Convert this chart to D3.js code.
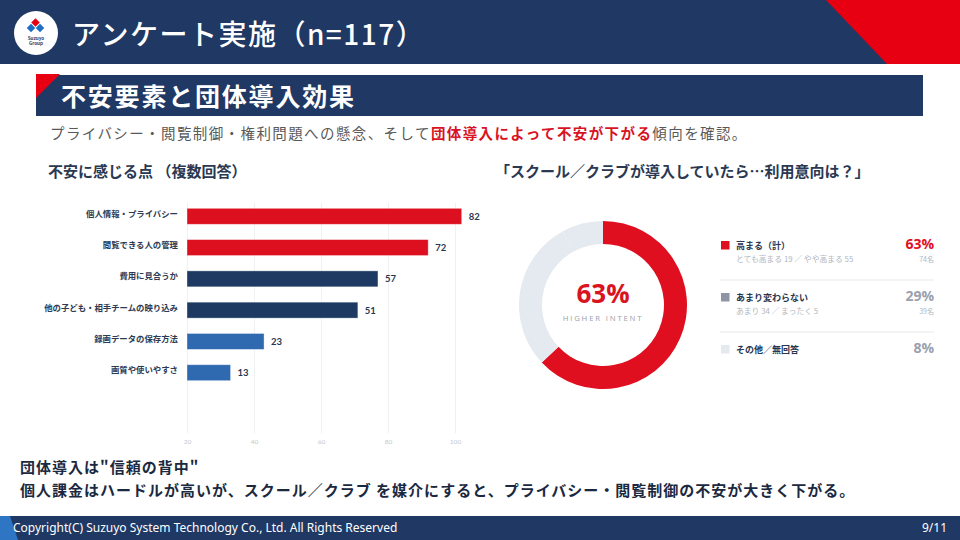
<!DOCTYPE html>
<html lang="ja">
<head>
<meta charset="utf-8">
<title>アンケート実施</title>
<script src="https://cdn.jsdelivr.net/npm/d3@7"></script>
<style>
  body { margin: 0; background: #fff; }
  svg { display: block; font-family: "Noto Sans CJK JP", "Noto Sans", sans-serif; }
</style>
</head>
<body>
<div id="slide"></div>
<script>
// ---- data ----
const categories = ["個人情報・プライバシー", "閲覧できる人の管理", "費用に見合うか",
                    "他の子ども・相手チームの映り込み", "録画データの保存方法", "画質や使いやすさ"];
const values = [82, 72, 57, 51, 23, 13];
const tiers = ["high", "high", "mid", "mid", "low", "low"];
const tickLabels = [20, 40, 60, 80, 100];

const intentLabels = ["高まる（計）", "あまり変わらない", "その他／無回答"];
const intentShares = [63, 29, 8];
const intentDetails = ["とても高まる 19 ／ やや高まる 55", "あまり 34 ／ まったく 5", ""];
const intentCounts = ["74名", "39名", ""];

const W = 960, H = 540;
const navy = "#1f3864", red = "#e00f1f";

const svg = d3.select("#slide").append("svg").attr("width", W).attr("height", H);

// ---- header ----
svg.append("rect").attr("width", W).attr("height", 64).attr("fill", navy);
svg.append("polygon").attr("points", "826,0 960,0 960,64 887,64").attr("fill", "#e60012");

// logo
const logo = svg.append("g").attr("transform", "translate(36,33)");
logo.append("circle").attr("r", 22).attr("fill", "#fff");
const diamond = (cx, cy, s, c) => logo.append("rect")
  .attr("x", -s / 2).attr("y", -s / 2).attr("width", s).attr("height", s)
  .attr("transform", `translate(${cx},${cy}) rotate(45)`).attr("fill", c);
diamond(-0.5, -10.5, 6, "#e60012");
diamond(-5, -5, 6, "#1d6fc2");
diamond(4, -5, 6, "#1d6fc2");
logo.append("text").attr("y", 6.5).attr("text-anchor", "middle").attr("font-size", 4.6)
  .attr("font-weight", 700).attr("fill", navy).text("Suzuyo");
logo.append("text").attr("y", 11.5).attr("text-anchor", "middle").attr("font-size", 4.6)
  .attr("font-weight", 700).attr("fill", navy).text("Group");

svg.append("text").attr("x", 72).attr("y", 45).attr("fill", "#fff")
  .attr("font-size", 28).attr("font-weight", 500).attr("letter-spacing", 1.5)
  .text("アンケート実施（n=117）");

// section bar
svg.append("rect").attr("x", 36).attr("y", 75).attr("width", 887).attr("height", 41).attr("fill", navy);
svg.append("polygon").attr("points", "36,74 60,74 36,98").attr("fill", "#e60012");
svg.append("text").attr("x", 61).attr("y", 106).attr("fill", "#fff")
  .attr("font-size", 25).attr("font-weight", 700).attr("letter-spacing", 1.8).text("不安要素と団体導入効果");

// subtitle
const sub = svg.append("text").attr("x", 50).attr("y", 139).attr("font-size", 14.5)
  .attr("letter-spacing", 1.4).attr("fill", "#595959");
sub.append("tspan").text("プライバシー・閲覧制御・権利問題への懸念、そして");
sub.append("tspan").attr("fill", "#d9121f").attr("font-weight", 700).text("団体導入によって不安が下がる");
sub.append("tspan").text("傾向を確認。");

// ---- bar chart ----
svg.append("text").attr("x", 48).attr("y", 177).attr("font-size", 15).attr("font-weight", 700)
  .attr("fill", "#2a3852").text("不安に感じる点 （複数回答）");

const x = d3.scaleLinear().domain([0, 80]).range([187, 455]);
const y = d3.scaleBand().domain(categories).range([200.5, 388.5]).paddingInner(0.49).paddingOuter(0.25);
const color = d3.scaleOrdinal().domain(["high", "mid", "low"]).range(["#dd1020", "#1e3a62", "#2f6ab0"]);
const tickValues = tickLabels.map(t => t - tickLabels[0]);

const xAxis = svg.append("g").attr("transform", "translate(0,433)")
  .call(d3.axisBottom(x).tickValues(tickValues).tickFormat((d, i) => tickLabels[i])
    .tickSize(-230).tickPadding(6));
xAxis.select(".domain").remove();
xAxis.selectAll(".tick line").attr("stroke", "#eef0f3");
xAxis.selectAll(".tick text").attr("fill", "#c3c7cf").attr("font-size", 6.5)
  .attr("font-family", "Lato, 'Noto Sans', sans-serif");

svg.append("g").selectAll("rect").data(values).join("rect")
  .attr("x", x(0)).attr("y", (d, i) => y(categories[i]))
  .attr("width", d => x(d) - x(0)).attr("height", y.bandwidth())
  .attr("fill", (d, i) => color(tiers[i]))
  .attr("stroke", "#fff").attr("stroke-opacity", 0.45).attr("stroke-width", 0.8);

svg.append("g").selectAll("text").data(values).join("text")
  .attr("x", d => x(d) + 7).attr("y", (d, i) => y(categories[i]) + y.bandwidth() / 2 + 3.5)
  .attr("font-size", 9.5).attr("font-weight", 700).attr("fill", "#2a3650")
  .attr("font-family", "Lato, 'Noto Sans', sans-serif").text(d => d);

svg.append("g").selectAll("text").data(categories).join("text")
  .attr("x", 178).attr("y", d => y(d) + y.bandwidth() / 2 + 0.5)
  .attr("text-anchor", "end").attr("font-size", 8.4).attr("font-weight", 700)
  .attr("fill", "#2d3a52").text(d => d);

// ---- donut ----
svg.append("text").attr("x", 495).attr("y", 177).attr("font-size", 15).attr("font-weight", 700)
  .attr("fill", "#2a3852").text("「スクール／クラブが導入していたら…利用意向は？」");

const donutFill = d3.scaleOrdinal().domain(intentLabels).range([red, "#e5e9f0", "#e5e9f0"]);
const keyFill = d3.scaleOrdinal().domain(intentLabels).range([red, "#8e96a5", "#e5e9f0"]);
const pctFill = d3.scaleOrdinal().domain(intentLabels).range([red, "#9aa1ae", "#9aa1ae"]);

const pie = d3.pie().sort(null).value(d => d.v);
const arc = d3.arc().innerRadius(61).outerRadius(84);
const slices = pie(intentShares.map((v, i) => ({ v, k: intentLabels[i] })));

const donut = svg.append("g").attr("transform", "translate(603,305)");
donut.selectAll("path").data(slices).join("path")
  .attr("d", arc).attr("fill", d => donutFill(d.data.k));
donut.append("text").attr("y", -2).attr("text-anchor", "middle").attr("font-size", 26)
  .attr("font-weight", 700).attr("fill", "#d9141f")
  .attr("font-family", "'Open Sans', 'Noto Sans', sans-serif").text(intentShares[0] + "%");
donut.append("text").attr("y", 16).attr("text-anchor", "middle").attr("font-size", 7.8)
  .attr("letter-spacing", 1.8).attr("fill", "#9ba1ac")
  .attr("font-family", "'Open Sans', 'Noto Sans', sans-serif").text("HIGHER INTENT");

// legend
const rowY = d3.scalePoint().domain(intentLabels).range([249, 353]);
const legend = svg.append("g").selectAll("g").data(intentLabels).join("g")
  .attr("transform", d => `translate(0,${rowY(d)})`);
legend.append("rect").attr("x", 721).attr("y", -8).attr("width", 8.5).attr("height", 8.5)
  .attr("fill", d => keyFill(d));
legend.append("text").attr("x", 736).attr("font-size", 9).attr("font-weight", 700)
  .attr("fill", "#2a3650").text(d => d);
legend.append("text").attr("x", 736).attr("y", 12.5).attr("font-size", 7.8)
  .attr("fill", "#b0b6c1").text((d, i) => intentDetails[i]);
legend.append("text").attr("x", 934).attr("text-anchor", "end").attr("font-size", 14)
  .attr("font-weight", 700).attr("fill", d => pctFill(d))
  .attr("font-family", "'Open Sans', 'Noto Sans', sans-serif").text((d, i) => intentShares[i] + "%");
legend.append("text").attr("x", 934).attr("y", 13).attr("text-anchor", "end").attr("font-size", 7)
  .attr("fill", "#b0b6c1").text((d, i) => intentCounts[i]);
legend.filter((d, i) => i < intentLabels.length - 1).append("line")
  .attr("x1", 720).attr("x2", 934).attr("y1", 31).attr("y2", 31)
  .attr("stroke", "#e7e9ed").attr("stroke-width", 1);

// ---- takeaway ----
svg.append("text").attr("x", 20).attr("y", 473).attr("font-size", 15).attr("font-weight", 700)
  .attr("letter-spacing", 1).attr("fill", "#1b2940").text("団体導入は\"信頼の背中\"");
svg.append("text").attr("x", 20).attr("y", 496).attr("font-size", 15).attr("font-weight", 700)
  .attr("letter-spacing", 1).attr("fill", "#1b2940")
  .text("個人課金はハードルが高いが、スクール／クラブ を媒介にすると、プライバシー・閲覧制御の不安が大きく下がる。");

// ---- footer ----
svg.append("rect").attr("y", 516).attr("width", W).attr("height", 24).attr("fill", navy);
svg.append("polygon").attr("points", "0,516 10,516 18,540 0,540").attr("fill", "#2e75c4");
svg.append("text").attr("x", 13).attr("y", 532).attr("font-size", 12).attr("fill", "#fff")
  .attr("font-family", "'Noto Sans', sans-serif").text("Copyright(C) Suzuyo System Technology Co., Ltd.  All Rights Reserved");
svg.append("text").attr("x", 947).attr("y", 532).attr("text-anchor", "end").attr("font-size", 12)
  .attr("fill", "#fff").attr("font-family", "'Noto Sans', sans-serif").text("9/11");
</script>
</body>
</html>
